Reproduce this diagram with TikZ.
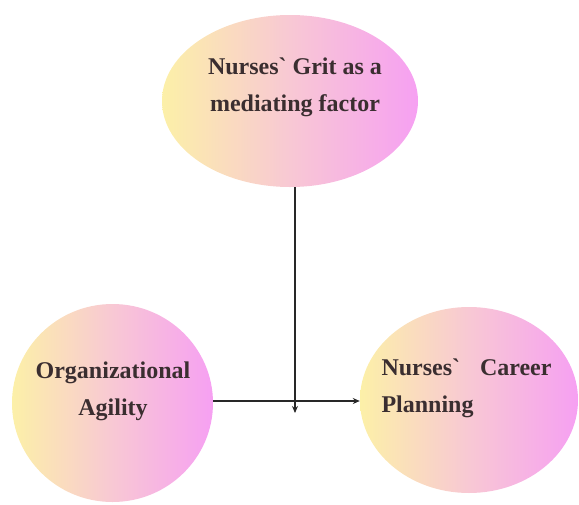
\documentclass[tikz,border=0pt]{standalone}
\usepackage{fontspec}
\setmainfont{Liberation Serif}
\usetikzlibrary{shapes.geometric,arrows.meta}
\definecolor{bubbleL}{RGB}{252,240,168}
\definecolor{bubbleM}{RGB}{248,200,212}
\definecolor{bubbleR}{RGB}{246,160,242}
\definecolor{inktext}{RGB}{58,46,48}
\definecolor{inkline}{RGB}{40,40,40}
\tikzset{
  bubble/.style={ellipse, draw=none, inner sep=0pt,
    left color=bubbleL, right color=bubbleR, middle color=bubbleM},
  label/.style={font=\fontsize{24}{37}\selectfont\bfseries, text=inktext},
  link/.style={draw=inkline, line width=1.3pt, -{Stealth[length=7pt,width=6pt]}}
}
\begin{document}
\begin{tikzpicture}[x=1pt,y=-1pt]
  \useasboundingbox (0,0) rectangle (579,504);
  % three factors
  \node[bubble, minimum width=256pt, minimum height=172pt] (grit) at (290,101) {};
  \node[bubble, minimum width=201pt, minimum height=198pt] (agility) at (112.5,403) {};
  \node[bubble, minimum width=218pt, minimum height=186pt] (career) at (469,400) {};
  % texts
  \node[label, align=center] (gritT) at (295,87) {Nurses\textasciigrave{} Grit as a\\mediating factor};
  \node[label, align=center] (agilityT) at (113,391) {Organizational\\Agility};
  \node[label, align=left, anchor=west] (careerT) at (378,388)
    {\hbox to 170pt{Nurses\textasciigrave\hfill Career}\\Planning};
  % connectors
  \coordinate (drop) at (295,413);
  \draw[link] (agility.east |- 0,401) -- (career.west |- 0,401);
  \draw[link] (grit.south -| drop) -- (drop);
\end{tikzpicture}
\end{document}
